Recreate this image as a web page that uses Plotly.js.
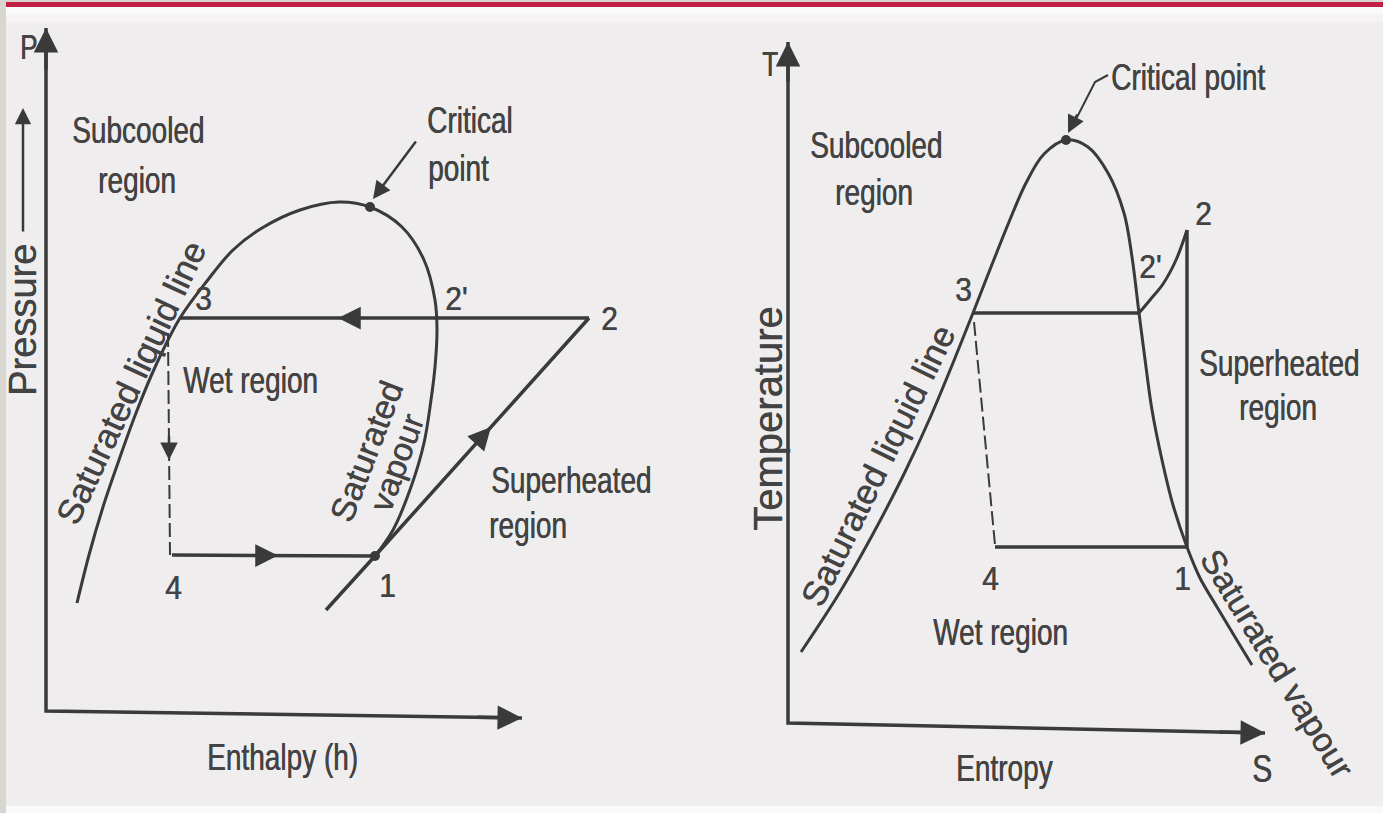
<!DOCTYPE html>
<html>
<head>
<meta charset="utf-8">
<script src="https://cdn.plot.ly/plotly-3.0.1.min.js"></script>
<style>
  html, body { margin: 0; padding: 0; background: #efedee; }
  #chart { width: 1383px; height: 813px; }
</style>
</head>
<body>
<div id="chart"></div>
<script>
// ---------- P-h diagram (enthalpy h, pressure P from the axis corner) ----------
const phDomeH = [31, 43, 57, 73, 90, 110, 134, 161, 187, 216, 254, 293, 324, 356, 378, 389, 391, 389, 385, 378, 365, 347, 329];
const phDomeP = [108, 156, 204, 251, 298, 346, 393, 430, 461, 483, 501, 509, 504, 484, 451, 411, 381, 344, 311, 268, 224, 181, 155];
const phCondenseH = [134, 543];          // 3 -> 2 (constant pressure)
const phCondenseP = [393, 393];
const phCompressH = [280, 329, 543];     // line through 1 -> 2
const phCompressP = [101, 155, 393];
const phEvapH = [126, 329];              // 4 -> 1
const phEvapP = [156, 155];
const phThrottleH = [122, 124];          // 3 -> 4 (dashed)
const phThrottleP = [378, 156];
const phCritical = [324, 504];
const phAxisH = [0, 0, 476];
const phAxisP = [683, 0, -7];

// ---------- T-s diagram (entropy s, temperature T from the axis corner) ----------
const tsDomeS = [13, 52, 86, 116, 142, 165, 185, 203, 221, 238, 256, 278, 300, 320, 336, 344, 351, 358, 364, 374, 385, 399, 412, 429, 447, 464];
const tsDomeT = [71, 131, 191, 249, 305, 360, 410, 456, 501, 540, 569, 583, 576, 550, 510, 466, 410, 356, 313, 263, 218, 176, 145, 116, 86, 58];
const tsCondenseS = [185, 351];          // 3 -> 2'
const tsCondenseT = [410, 410];
const tsSuperS = [351, 362, 375, 388, 399]; // 2' -> 2
const tsSuperT = [410, 423, 439, 463, 493];
const tsCompressS = [399, 399];          // 1 -> 2
const tsCompressT = [176, 493];
const tsEvapS = [207, 399];              // 4 -> 1
const tsEvapT = [176, 176];
const tsThrottleS = [186, 207];          // 3 -> 4 (dashed)
const tsThrottleT = [401, 178];
const tsCritical = [278, 583];
const tsLeaderS = [320, 307, 284];
const tsLeaderT = [648, 641, 596];
const tsAxisS = [0, 0, 477];
const tsAxisT = [681, 0, -10];

const INK = '#3a3a3a';
const TEXT = '#434343';
const FONT = 'Liberation Sans, Arial, Helvetica, sans-serif';

function line(x, y, ax, width, dash, shape) {
  return {
    x: x, y: y, xaxis: ax[0], yaxis: ax[1], type: 'scatter', mode: 'lines',
    hoverinfo: 'skip', showlegend: false,
    line: { color: INK, width: width, dash: dash || 'solid', shape: shape || 'linear' }
  };
}
function dot(p, ax) {
  return {
    x: [p[0]], y: [p[1]], xaxis: ax[0], yaxis: ax[1], type: 'scatter', mode: 'markers',
    hoverinfo: 'skip', showlegend: false,
    marker: { color: INK, size: 10 }
  };
}

const PH = ['x', 'y'];
const TS = ['x2', 'y2'];
const DASH = '14px,5px';

const traces = [
  line(phAxisH, phAxisP, PH, 3.5),
  line(phDomeH, phDomeP, PH, 3, 'solid', 'spline'),
  line(phCondenseH, phCondenseP, PH, 3.5),
  line(phCompressH, phCompressP, PH, 3.5),
  line(phEvapH, phEvapP, PH, 3.5),
  line(phThrottleH, phThrottleP, PH, 2, DASH),
  dot(phCritical, PH),
  dot([phCompressH[1], phCompressP[1]], PH),

  line(tsAxisS, tsAxisT, TS, 3.5),
  line(tsDomeS, tsDomeT, TS, 3, 'solid', 'spline'),
  line(tsCondenseS, tsCondenseT, TS, 3.5),
  line(tsSuperS, tsSuperT, TS, 3, 'solid', 'spline'),
  line(tsCompressS, tsCompressT, TS, 3.5),
  line(tsEvapS, tsEvapT, TS, 3.5),
  line(tsThrottleS, tsThrottleT, TS, 2, DASH),
  line(tsLeaderS, tsLeaderT, TS, 2),
  dot(tsCritical, TS)
];

// text labels: [text, x, y, angle, size, vertical stretch]
const phLabels = [
  ['P', -18, 664, 0, 26, 1.35],
  ['Pressure', -23, 391, -90, 38, 1],
  ['Subcooled', 92, 581, 0, 28, 1.3],
  ['region', 91, 531, 0, 28, 1.3],
  ['Critical', 424, 591, 0, 28, 1.3],
  ['point', 412, 543, 0, 28, 1.3],
  ['3', 157, 413, 0, 30, 1.12],
  ["2'", 410, 413, 0, 30, 1.12],
  ['2', 563, 393, 0, 30, 1.12],
  ['Wet region', 204, 331, 0, 28, 1.3],
  ['4', 127, 124, 0, 30, 1.12],
  ['1', 341, 126, 0, 30, 1.12],
  ['Superheated', 525, 231, 0, 28, 1.3],
  ['region', 482, 186, 0, 28, 1.3],
  ['Enthalpy (h)', 236, -46, 0, 28, 1.3],
  ['Saturated liquid line', 84, 328, -65, 35, 1],
  ['Saturated', 320, 259, -69, 34, 1],
  ['vapour', 350, 248, -70, 33, 1]
];
const tsLabels = [
  ['T', -18, 659, 0, 26, 1.35],
  ['Temperature', -20, 304, -90, 40, 1],
  ['Critical point', 400, 646, 0, 28, 1.3],
  ['Subcooled', 88, 578, 0, 28, 1.3],
  ['region', 86, 531, 0, 28, 1.3],
  ['3', 175, 434, 0, 30, 1.12],
  ["2'", 362, 457, 0, 30, 1.12],
  ['2', 415, 510, 0, 30, 1.12],
  ['Superheated', 491, 360, 0, 28, 1.3],
  ['region', 490, 316, 0, 28, 1.3],
  ['4', 202, 145, 0, 30, 1.12],
  ['1', 394, 145, 0, 30, 1.12],
  ['Wet region', 212, 91, 0, 28, 1.3],
  ['Entropy', 216, -45, 0, 28, 1.3],
  ['S', 474, -45, 0, 30, 1.3],
  ['Saturated vapour', 489, 60, 58.5, 34, 1],
  ['Saturated liquid line', 89, 257, -64, 35, 1]
];

// arrowheads: [tipX, tipY, tailX, tailY, width, size]
const phArrows = [
  [0, 683, 0, 640, 3.5, 1.4],          // P axis
  [476, -7, 430, -6.3, 3.5, 1.4],      // h axis
  [-23, 603, -23, 478, 2.5, 1.3],      // "Pressure" direction
  [292, 393, 315, 393, 3.5, 1.3],      // 2 -> 3
  [445, 284, 431.6, 269.2, 3.5, 1.3],  // 1 -> 2
  [232, 155.5, 212, 155.5, 3.5, 1.3],  // 4 -> 1
  [123, 251, 123, 276, 2.5, 1.4],      // 3 -> 4
  [327, 512, 371, 571, 2.5, 1.4]       // critical point leader
];
const tsArrows = [
  [0, 681, 0, 640, 3.5, 1.4],          // T axis
  [477, -10, 430, -9, 3.5, 1.4],       // s axis
  [280, 590, 290, 610, 2.5, 1.4]       // critical point leader
];

const annotations = [];
const stretch = [];
function addLabels(list, ax) {
  list.forEach(function (l) {
    stretch.push(l[5]);
    annotations.push({
      text: l[0], x: l[1], y: l[2], xref: ax[0], yref: ax[1],
      textangle: l[3], showarrow: false, xanchor: 'center', yanchor: 'middle',
      font: { family: FONT, size: l[4], color: TEXT, shadow: '0.5px 0 0 ' + TEXT }
    });
  });
}
function addArrows(list, ax) {
  list.forEach(function (a) {
    stretch.push(1);
    annotations.push({
      text: '', x: a[0], y: a[1], ax: a[2], ay: a[3],
      xref: ax[0], yref: ax[1], axref: ax[0], ayref: ax[1],
      showarrow: true, arrowhead: 2, arrowwidth: a[4], arrowsize: a[5], arrowcolor: INK
    });
  });
}
addLabels(phLabels, PH);
addLabels(tsLabels, TS);
addArrows(phArrows, PH);
addArrows(tsArrows, TS);

const W = 1383, H = 813;
function band(y0px, y1px, color) {
  return { type: 'rect', xref: 'paper', yref: 'paper', x0: 0, x1: 1,
           y0: 1 - y1px / H, y1: 1 - y0px / H, fillcolor: color, line: { width: 0 }, layer: 'below' };
}
const shapes = [
  band(0, 2, '#d9d6d1'),
  band(2, 7, '#c21f45'),
  band(7, 14, '#fbfafa'),
  band(14, 22, '#f5f3f4'),
  band(806, 813, '#f9f9f9'),
  { type: 'rect', xref: 'paper', yref: 'paper', x0: 0, x1: 6 / W, y0: 0, y1: 1,
    fillcolor: '#d7d6d0', line: { width: 0 }, layer: 'below' }
];

const hidden = { visible: false, fixedrange: true, showgrid: false, zeroline: false };
const layout = {
  width: W, height: H, autosize: false,
  margin: { l: 0, r: 0, t: 0, b: 0, pad: 0 },
  paper_bgcolor: '#efedee', plot_bgcolor: 'rgba(0,0,0,0)',
  showlegend: false,
  xaxis: Object.assign({ domain: [0, 1], range: [-46, W - 46] }, hidden),
  yaxis: Object.assign({ domain: [0, 1], range: [711 - H, 711] }, hidden),
  xaxis2: Object.assign({ overlaying: 'x', range: [-788, W - 788] }, hidden),
  yaxis2: Object.assign({ overlaying: 'y', range: [723 - H, 723] }, hidden),
  shapes: shapes,
  annotations: annotations
};

Plotly.newPlot('chart', traces, layout, { staticPlot: true, displayModeBar: false }).then(function (gd) {
  // tall, condensed lettering: stretch horizontal labels vertically about their centre
  gd.querySelectorAll('g.annotation').forEach(function (g) {
    const k = stretch[+g.getAttribute('data-index')];
    const t = g.querySelector('text.annotation-text');
    if (t && k && k !== 1) {
      t.style.transformBox = 'fill-box';
      t.style.transformOrigin = 'center';
      t.style.transform = 'scaleY(' + k + ')';
    }
  });
});
</script>
</body>
</html>
